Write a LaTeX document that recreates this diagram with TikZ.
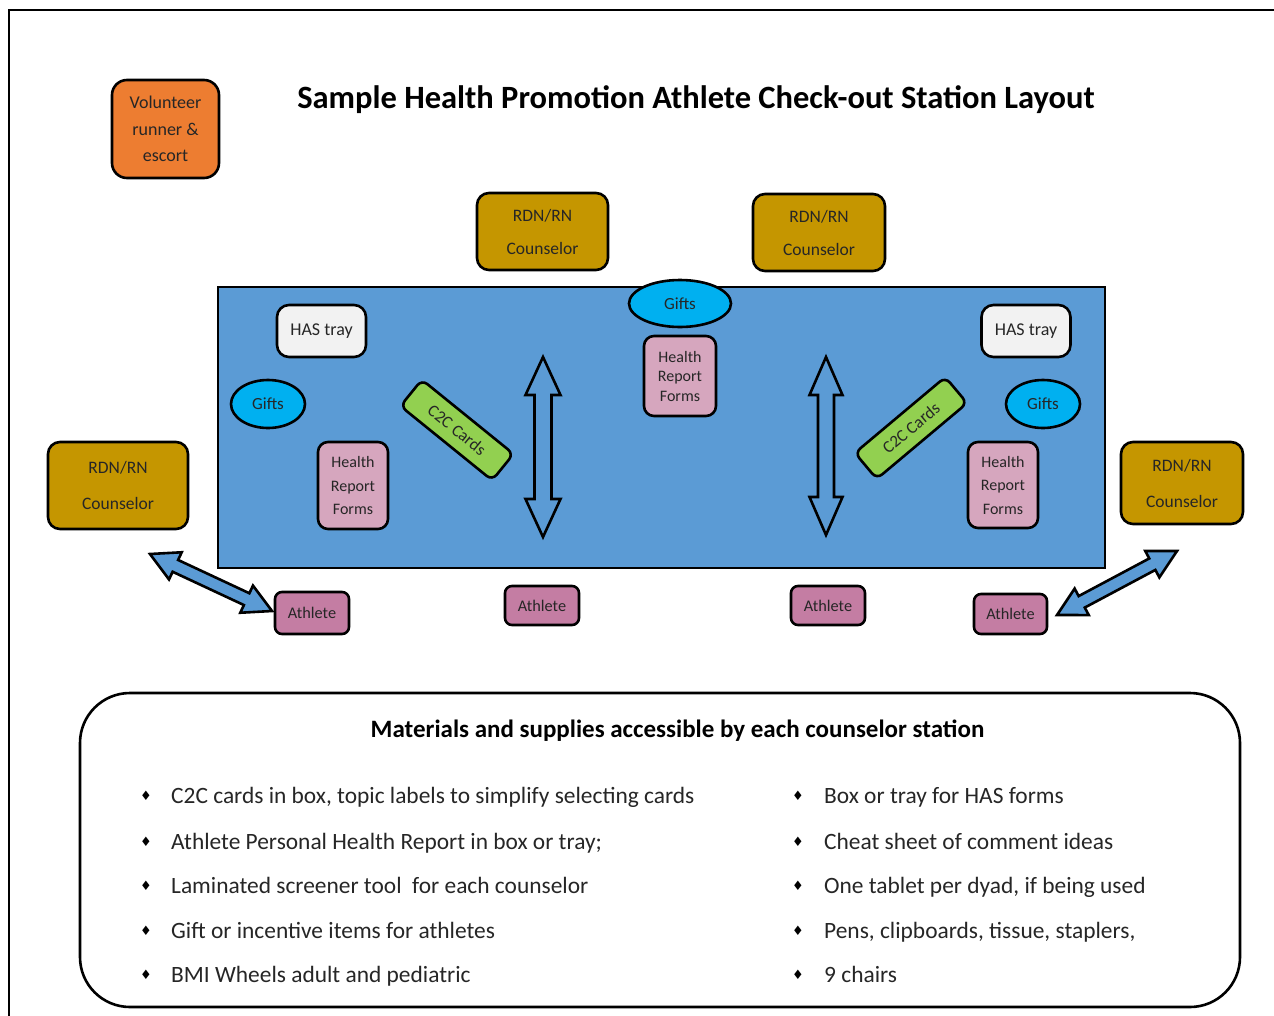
\documentclass[tikz,border=0pt]{standalone}
\usepackage{fontspec}
\setmainfont{Carlito}
\newfontfamily\symf{DejaVu Sans}
\usetikzlibrary{calc,shapes.geometric}
\definecolor{orangeC}{HTML}{ED7D31}
\definecolor{goldC}{RGB}{197,150,0}
\definecolor{tableC}{HTML}{5B9BD5}
\definecolor{giftC}{HTML}{00B0F0}
\definecolor{trayC}{HTML}{F2F2F2}
\definecolor{formC}{RGB}{214,166,190}
\definecolor{athC}{RGB}{196,125,163}
\definecolor{cardC}{HTML}{92D050}
\definecolor{txtC}{RGB}{38,38,38}
\newcommand\dblblockarrow[6][]{%
\draw[blockarr,#1] (#2) -- ($(#2)!#6!(#3)!#5!90:(#3)$) -- ($(#2)!#6!(#3)!#4!90:(#3)$) -- ($(#3)!#6!(#2)!#4!270:(#2)$) -- ($(#3)!#6!(#2)!#5!270:(#2)$) -- (#3) -- ($(#3)!#6!(#2)!#5!90:(#2)$) -- ($(#3)!#6!(#2)!#4!90:(#2)$) -- ($(#2)!#6!(#3)!#4!270:(#3)$) -- ($(#2)!#6!(#3)!#5!270:(#3)$) -- cycle;}
\tikzset{
  box/.style={draw=black, line width=2.6pt, rounded corners=12pt, inner sep=0pt, align=center, text=txtC, font=\fontsize{17}{20}\selectfont},
  counselor/.style={box, fill=goldC, font=\fontsize{17.5}{33}\selectfont},
  tray/.style={box, fill=trayC, minimum width=89, minimum height=52, font=\fontsize{18}{20}\selectfont},
  gift/.style={ellipse, draw=black, line width=2.6pt, fill=giftC, inner sep=0pt, text=txtC, font=\fontsize{17}{20}\selectfont},
  form/.style={box, fill=formC, rounded corners=10pt, font=\fontsize{16}{23.5}\selectfont},
  athlete/.style={box, fill=athC, rounded corners=7pt, minimum width=74, font=\fontsize{16.3}{20}\selectfont},
  card/.style={box, fill=cardC, rounded corners=7pt, minimum width=118, minimum height=34, font=\fontsize{17}{20}\selectfont},
  blockarr/.style={draw=black, line width=2.6pt, fill=tableC, line join=miter},
  item/.style={anchor=base west, inner sep=0pt, text=txtC, font=\fontsize{23.4}{26}\selectfont},
  bullet/.style={anchor=center, inner sep=0pt, text=black, font=\symf\fontsize{13}{14}\selectfont},
}
\begin{document}
\begin{tikzpicture}[x=1pt,y=-1pt]
\useasboundingbox (0,0) rectangle (1274,1015);
% outer frame
\draw[line width=2pt] (9,1020) -- (9,10) -- (1280,10);
% title
\node[anchor=base, inner sep=0pt, font=\bfseries\fontsize{32.5}{36}\selectfont] (title) at (696,108) {Sample Health Promotion Athlete Check-out Station Layout};
% volunteer
\node[box, fill=orangeC, minimum width=107, minimum height=98, rounded corners=15pt, font=\fontsize{18}{26.5}\selectfont] (vol) at (165.5,129) {Volunteer\\runner \&\\escort};
% counselors
\node[counselor, minimum width=131, minimum height=77] (c1) at (542.5,231.5) {RDN/RN\\Counselor};
\node[counselor, minimum width=132, minimum height=77] (c2) at (819,232.5) {RDN/RN\\Counselor};
\node[counselor, minimum width=140, minimum height=87, font=\fontsize{17.5}{36}\selectfont] (c3) at (118,485.5) {RDN/RN\\Counselor};
\node[counselor, minimum width=122, minimum height=82, font=\fontsize{17.5}{36}\selectfont] (c4) at (1182,483) {RDN/RN\\Counselor};
% table
\node[draw=black, fill=tableC, line width=2.6pt, minimum width=887, minimum height=281, inner sep=0pt] (table) at (661.5,427.5) {};
% items on table
\node[gift, minimum width=102, minimum height=47] (g0) at (680,303.5) {Gifts};
\node[form, minimum width=72, minimum height=80, font=\fontsize{16}{19.5}\selectfont] (f0) at (680,376) {Health\\Report\\Forms};
\node[tray] (t1) at (321.5,331) {HAS tray};
\node[tray] (t2) at (1026,331) {HAS tray};
\node[gift, minimum width=74, minimum height=48] (g1) at (268,404) {Gifts};
\node[gift, minimum width=74, minimum height=48] (g2) at (1043,404) {Gifts};
\node[form, minimum width=70, minimum height=87] (f1) at (353,485.5) {Health\\Report\\Forms};
\node[form, minimum width=70, minimum height=86] (f2) at (1003,485) {Health\\Report\\Forms};
\node[card, rotate=-39] (k1) at (457,430) {C2C Cards};
\node[card, rotate=40] (k2) at (911,428) {C2C Cards};
% vertical arrows
\coordinate (va1) at (543,357);
\coordinate (va2) at (543,537);
\coordinate (vb1) at (826,357);
\coordinate (vb2) at (826,535);
\dblblockarrow{va1}{va2}{8.5pt}{17.5pt}{38pt}
\dblblockarrow{vb1}{vb2}{8pt}{16.5pt}{38pt}
% athletes
\node[athlete, minimum height=42] (a1) at (312,613) {Athlete};
\node[athlete, minimum height=39] (a2) at (542,605.5) {Athlete};
\node[athlete, minimum height=39] (a3) at (828,605.5) {Athlete};
\node[athlete, minimum width=73, minimum height=40] (a4) at (1010.5,614) {Athlete};
% diagonal arrows
\coordinate (da1) at (150,554);
\coordinate (da2) at (272,611);
\coordinate (db1) at (1057,615);
\coordinate (db2) at (1177,551);
\dblblockarrow{da1}{da2}{6.5pt}{15pt}{28pt}
\dblblockarrow{db1}{db2}{6.5pt}{15pt}{28pt}
% materials box
\node[draw=black, line width=2.6pt, fill=white, rounded corners=50pt, minimum width=1160, minimum height=314, inner sep=0pt] (mat) at (660,850) {};
\node[anchor=base, inner sep=0pt, font=\bfseries\fontsize{25}{28}\selectfont] (head) at (677.5,737) {Materials and supplies accessible by each counselor station};
\foreach \i/\y/\t in {1/803/{C2C cards in box, topic labels to simplify selecting cards},
                      2/849/{Athlete Personal Health Report in box or tray;},
                      3/893/{Laminated screener tool\ \ for each counselor},
                      4/938/{Gift or incentive items for athletes},
                      5/982/{BMI Wheels adult and pediatric}}{
  \node[bullet] (bl\i) at (146,\y-7) {♦};
  \node[item] (l\i) at (171,\y) {\t};
}
\foreach \i/\y/\t in {1/803/{Box or tray for HAS forms},
                      2/849/{Cheat sheet of comment ideas},
                      3/893/{One tablet per dyad, if being used},
                      4/938/{Pens, clipboards, tissue, staplers,},
                      5/982/{9 chairs}}{
  \node[bullet] (br\i) at (798,\y-7) {♦};
  \node[item] (r\i) at (824,\y) {\t};
}
\end{tikzpicture}
\end{document}
